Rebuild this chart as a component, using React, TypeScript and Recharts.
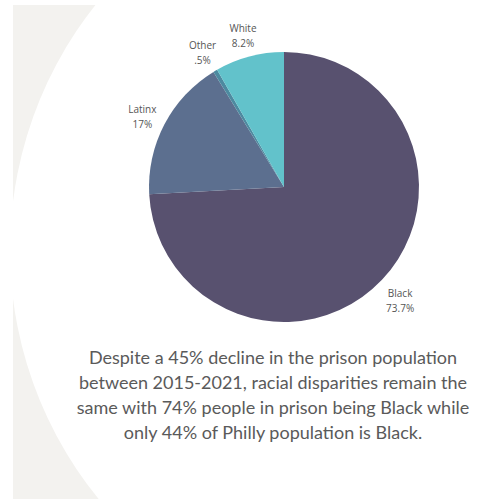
import { Cell, Pie, PieChart } from "recharts";

const groups = ["Black", "Latinx", "Other", "White"];
const shares = [73.7, 17, 0.5, 8.2];
const shareLabels = ["73.7%", "17%", ".5%", "8.2%"];
const colors = ["#58516f", "#5c6f8f", "#4d8aa0", "#62c2cb"];

const caption = [
  "Despite a 45% decline in the prison population",
  "between 2015-2021, racial disparities remain the",
  "same with 74% people in prison being Black while",
  "only 44% of Philly population is Black.",
];

const data = groups.map((name, i) => ({ name, value: shares[i], label: shareLabels[i] }));

const RAD = Math.PI / 180;

function SliceLabel(props: any) {
  const { cx, cy, midAngle, outerRadius, index } = props;
  const r = outerRadius + 25;
  const x = cx + r * Math.cos(-midAngle * RAD);
  const y = cy + r * Math.sin(-midAngle * RAD);
  return (
    <text
      x={x}
      y={y}
      textAnchor="middle"
      fill="#555"
      fontSize={10}
      fontFamily="Open Sans, sans-serif"
    >
      <tspan x={x} dy={0}>{data[index].name}</tspan>
      <tspan x={x} dy={15}>{data[index].label}</tspan>
    </text>
  );
}

export default function App() {
  return (
    <div
      style={{
        position: "fixed",
        left: 0,
        top: 0,
        width: 483,
        height: 499,
        background: "#fff",
        overflow: "hidden",
      }}
    >
      <div
        style={{
          position: "absolute",
          left: 13,
          top: 5,
          width: 470,
          height: 494,
          background: "#f3f2ef",
          overflow: "hidden",
        }}
      >
        {/* big white disc behind the chart */}
        <div
          style={{
            position: "absolute",
            left: 404 - 394 - 13,
            top: 250 - 394 - 5,
            width: 788,
            height: 788,
            borderRadius: "50%",
            background: "#fff",
          }}
        />
      </div>
      <div style={{ position: "absolute", left: 0, top: 0 }}>
        <PieChart width={483} height={340} margin={{ top: 0, right: 0, bottom: 0, left: 0 }}>
          <Pie
            data={data}
            dataKey="value"
            cx={284}
            cy={187}
            outerRadius={135}
            startAngle={90}
            endAngle={-270}
            stroke="none"
            label={SliceLabel}
            labelLine={false}
            isAnimationActive={false}
          >
            {data.map((d, i) => (
              <Cell key={d.name} fill={colors[i]} />
            ))}
          </Pie>
        </PieChart>
      </div>
      <div
        style={{
          position: "absolute",
          left: 73,
          width: 400,
          top: 345,
          textAlign: "center",
          fontFamily: "Lato, sans-serif",
          fontSize: 18,
          lineHeight: "25px",
          color: "#5a5a5a",
        }}
      >
        {caption.map((line) => (
          <div key={line} style={{ whiteSpace: "nowrap" }}>{line}</div>
        ))}
      </div>
    </div>
  );
}
